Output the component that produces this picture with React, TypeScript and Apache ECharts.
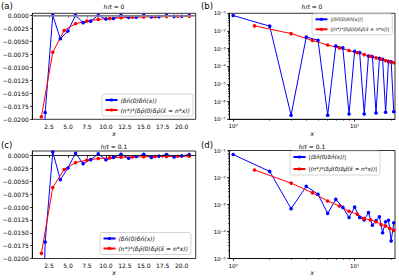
import React, { useEffect, useRef } from "react";
import * as echarts from "echarts";

// lattice positions x (blue) and scaled positions (red)
const siteX = [1, 2, 3, 4, 5, 6, 7, 8, 9, 10, 11, 12, 13, 14, 15, 16, 17, 18, 19, 20, 21];
const scaledX = [1.5, 3, 4.5, 6, 7.5, 9, 10.5, 12, 13.5, 15, 16.5, 18, 19.5, 21];

// h/t = 0
const blueH0 = [
  -0.075, -0.0187, 1.7e-7, -0.0045, -0.003, 1.7e-7, -0.0014, -0.0011, 2.0e-7, -0.0007,
  -0.0006, 2.0e-7, -0.00038, -0.00035, 2.3e-7, -0.00028, -0.00025, 2.5e-7, -0.00019, -0.00018, 2.7e-7,
];
const redH0 = [
  -0.0195, -0.0071, -0.0029, -0.0016, -0.00108, -0.00078, -0.00058, -0.00046, -0.00037, -0.0003,
  -0.00025, -0.00021, -0.00018, -0.00016,
];

// h/t = 0.1
const blueH01 = [
  -0.071, -0.0168, 0.0007, -0.0047, -0.0024, 0.00047, -0.00155, -0.00078, 0.00033, -0.0008,
  -0.00033, 0.00027, -0.0005, -0.00017, 0.00025, -0.00035, -0.00009, 0.00023, -0.00026, -0.000045, 0.00021,
];
const redH01 = [
  -0.019, -0.0062, -0.0027, -0.00135, -0.00088, -0.00056, -0.00044, -0.0003, -0.00027, -0.00023,
  -0.00018, -0.00016, -0.00013, -0.00011,
];

const linXTicks = [2.5, 5, 7.5, 10, 12.5, 15, 17.5, 20];
const linYTicks = [0, -0.0025, -0.005, -0.0075, -0.01, -0.0125, -0.015, -0.0175, -0.02];
const logXTicks = [1, 10];
const logXMinor = [2, 3, 4, 5, 6, 7, 8, 9, 20];
const logYTicksB = [1e-7, 1e-6, 1e-5, 1e-4, 1e-3, 1e-2, 1e-1];
const logYTicksD = [1e-5, 1e-4, 1e-3, 1e-2, 1e-1];

const panelLabels = ["(a)", "(b)", "(c)", "(d)"];
const hValues = ["0", "0", "0.1", "0.1"];
const nameBlue = "⟨δn̂(0)δn̂(x)⟩";
const nameRed = "(n*)⁴⟨δρ̂(0)δρ̂(x̃ = n*x)⟩";
const nameBlueAbs = "|⟨δn̂(0)δn̂(x)⟩|";
const nameRedAbs = "|(n*)⁴⟨δρ̂(0)δρ̂(x̃ = n*x)⟩|";

const FONT = "DejaVu Sans";
const BLUE = "#0000ff";
const RED = "#ff0000";

const SUP: Record<string, string> = {
  "-": "⁻", "0": "⁰", "1": "¹", "2": "²", "3": "³", "4": "⁴", "5": "⁵", "6": "⁶", "7": "⁷", "8": "⁸", "9": "⁹",
};
const logFmt = (v: number) => {
  const e = String(Math.round(Math.log10(v)));
  return "10" + e.split("").map((c) => SUP[c] || c).join("");
};
const linYFmt = (v: number) => (v < -1e-12 ? "−" : "") + Math.abs(v).toFixed(4);

function minorDecades(k0: number, k1: number) {
  const out: number[] = [];
  for (let k = k0; k <= k1; k++) for (let m = 2; m <= 9; m++) out.push(m * Math.pow(10, k));
  return out;
}

const zip = (xs: number[], ys: number[], abs = false) =>
  xs.map((x, i) => [x, abs ? Math.abs(ys[i]) : ys[i]]);

const grids = [
  { left: 32.3, top: 13.3, width: 163.4, height: 106 },
  { left: 229.3, top: 13.3, width: 165.7, height: 106 },
  { left: 32.3, top: 151, width: 163.4, height: 107.5 },
  { left: 229.3, top: 150.5, width: 165.7, height: 108 },
];

const axisLine = { show: true, lineStyle: { color: "#000", width: 0.8 } };
const labelBase = { fontSize: 6, color: "#000", fontFamily: FONT };

function linX(gridIndex: number) {
  return {
    type: "value", gridIndex, min: 0.3, max: 21.85,
    splitLine: { show: false }, axisLine,
    axisTick: { customValues: linXTicks, length: 2.2, lineStyle: { color: "#000", width: 0.8 } },
    axisLabel: { ...labelBase, customValues: linXTicks, margin: 4, formatter: (v: number) => v.toFixed(1) },
    name: "x", nameLocation: "middle", nameGap: 8.5,
    nameTextStyle: { fontStyle: "italic", fontSize: 6.5, fontFamily: FONT, color: "#000" },
  };
}
function logX(gridIndex: number, gap: number) {
  return {
    type: "log", logBase: 10, gridIndex, min: 0.93, max: 21.5,
    splitLine: { show: false }, axisLine,
    axisTick: { customValues: logXTicks, length: 2.2, lineStyle: { color: "#000", width: 0.8 } },
    axisLabel: { ...labelBase, fontSize: 5.5, customValues: logXTicks, margin: 4, formatter: logFmt },
    name: "x", nameLocation: "middle", nameGap: gap,
    nameTextStyle: { fontStyle: "italic", fontSize: 6.5, fontFamily: FONT, color: "#000" },
  };
}
function logXMinorAxis(gridIndex: number) {
  return {
    type: "log", logBase: 10, gridIndex, min: 0.93, max: 21.5, position: "bottom",
    splitLine: { show: false }, axisLine: { show: false }, axisLabel: { show: false },
    axisTick: { show: true, customValues: logXMinor, length: 1.3, lineStyle: { color: "#000", width: 0.6 } },
  };
}
function linY(gridIndex: number, max: number) {
  return {
    type: "value", gridIndex, min: -0.02, max,
    splitLine: { show: false }, axisLine,
    axisTick: { customValues: linYTicks, length: 2.2, lineStyle: { color: "#000", width: 0.8 } },
    axisLabel: { ...labelBase, customValues: linYTicks, margin: 3.5, formatter: linYFmt },
  };
}
function logY(gridIndex: number, min: number, ticks: number[]) {
  return {
    type: "log", logBase: 10, gridIndex, min, max: 0.1,
    splitLine: { show: false }, axisLine,
    axisTick: { customValues: ticks, length: 2.2, lineStyle: { color: "#000", width: 0.8 } },
    axisLabel: { ...labelBase, fontSize: 5.5, customValues: ticks, margin: 3.5, formatter: logFmt },
  };
}
function logYMinorAxis(gridIndex: number, min: number, k0: number) {
  return {
    type: "log", logBase: 10, gridIndex, min, max: 0.1, position: "left",
    splitLine: { show: false }, axisLine: { show: false }, axisLabel: { show: false },
    axisTick: { show: true, customValues: minorDecades(k0, -2), length: 1.3, lineStyle: { color: "#000", width: 0.6 } },
  };
}

function lineSeries(name: string, color: string, data: number[][], xi: number, yi: number, extra: any = {}) {
  return {
    type: "line", name, xAxisIndex: xi, yAxisIndex: yi, data,
    symbol: "circle", symbolSize: 3.6, showSymbol: true, showAllSymbol: true,
    itemStyle: { color }, lineStyle: { color, width: 1 }, clip: true,
    ...extra,
  };
}

function zeroLine(color: string, width: number) {
  return {
    markLine: {
      silent: true, symbol: "none", label: { show: false },
      lineStyle: { color, width, type: "solid" }, data: [{ yAxis: 0 }],
    },
  };
}

function legend(left: number, top: number, names: string[], fontSize: number, lineH: number, gap: number) {
  return {
    orient: "vertical", left, top, data: names,
    itemWidth: 12, itemHeight: 4, itemGap: gap,
    padding: [2.5, 3, 2.5, 2.5],
    backgroundColor: "rgba(255,255,255,0.85)", borderColor: "#cccccc", borderWidth: 0.8, borderRadius: 2,
    textStyle: { fontSize, fontFamily: FONT, fontStyle: "italic", color: "#000", lineHeight: lineH, padding: [0, 0, 0, -2] },
    selectedMode: false,
  };
}

export default function App() {
  const ref = useRef<HTMLDivElement>(null);
  useEffect(() => {
    if (!ref.current) return;
    const chart = echarts.init(ref.current, undefined, { renderer: "svg" });

    const graphic: any[] = [];
    const labelPos = [[1, 1], [201, 1], [1, 140.5], [201, 140.5]];
    panelLabels.forEach((t, i) => {
      graphic.push({
        type: "text", x: labelPos[i][0], y: labelPos[i][1],
        style: { text: t, fontSize: 8.5, fontFamily: FONT, fill: "#000", align: "left", verticalAlign: "top" },
      });
    });
    const titlePos = [[114, 6.7], [312, 6.7], [114, 146.5], [312, 146]];
    hValues.forEach((h, i) => {
      graphic.push({
        type: "text", x: titlePos[i][0], y: titlePos[i][1],
        style: {
          text: "{i|h}/{i|t} = " + h, fontSize: 6, fontFamily: FONT, fill: "#000",
          align: "center", verticalAlign: "middle",
          rich: { i: { fontStyle: "italic", fontSize: 6, fontFamily: FONT, fill: "#000" } },
        },
      });
    });

    const option: any = {
      animation: false,
      backgroundColor: "#ffffff",
      textStyle: { fontFamily: FONT },
      grid: grids.map((g) => ({
        ...g, show: true, borderColor: "#000", borderWidth: 0.8, backgroundColor: "transparent",
        containLabel: false, outerBoundsMode: "none",
      })),
      xAxis: [linX(0), logX(1, 11.5), linX(2), logX(3, 10.5), logXMinorAxis(1), logXMinorAxis(3)],
      yAxis: [
        linY(0, 0.0004), logY(1, 1e-7, logYTicksB), linY(2, 0.0009), logY(3, 1e-5, logYTicksD),
        logYMinorAxis(4 - 3, 1e-7, -7), logYMinorAxis(3, 1e-5, -5),
      ],
      legend: [
        legend(102, 94, [nameBlue, nameRed], 6, 7, 3),
        legend(312, 13.8, [nameBlueAbs, nameRedAbs], 4.8, 6, 4),
        legend(100, 232.5, [nameBlue, nameRed], 6, 7, 3),
        legend(290, 151, [nameBlueAbs, nameRedAbs], 5.6, 7, 5),
      ],
      series: [
        lineSeries(nameBlue, BLUE, zip(siteX, blueH0), 0, 0, zeroLine("#999999", 1.5)),
        lineSeries(nameRed, RED, zip(scaledX, redH0), 0, 0),
        lineSeries(nameBlueAbs, BLUE, zip(siteX, blueH0, true), 1, 1),
        lineSeries(nameRedAbs, RED, zip(scaledX, redH0, true), 1, 1),
        lineSeries(nameBlue, BLUE, zip(siteX, blueH01), 2, 2, zeroLine("#222222", 0.8)),
        lineSeries(nameRed, RED, zip(scaledX, redH01), 2, 2),
        lineSeries(nameBlueAbs, BLUE, zip(siteX, blueH01, true), 3, 3),
        lineSeries(nameRedAbs, RED, zip(scaledX, redH01, true), 3, 3),
      ],
      graphic,
    };
    chart.setOption(option);
    return () => chart.dispose();
  }, []);
  return (
    <div
      ref={ref}
      style={{ position: "fixed", left: 0, top: 0, width: 399, height: 280, background: "#fff" }}
    />
  );
}
